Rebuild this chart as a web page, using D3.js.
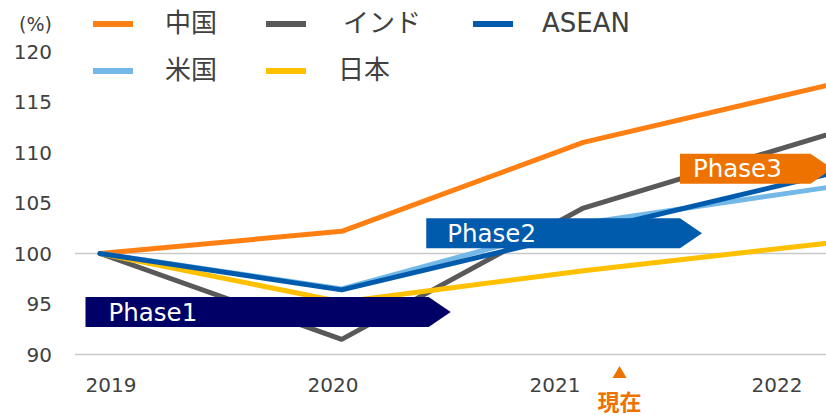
<!DOCTYPE html>
<html><head><meta charset="utf-8">
<script src="https://cdn.jsdelivr.net/npm/d3@7"></script>
<style>
html,body{margin:0;padding:0;background:#fff;}
svg{display:block;font-family:"DejaVu Sans","Noto Sans CJK JP",sans-serif;}
</style></head>
<body><svg id="c" width="826" height="415"></svg>
<script>
const years = ["2019", "2020", "2021", "2022"];
const yTicks = [90, 95, 100, 105, 110, 115, 120];
const gridValues = [90, 100];
const seriesNames = ["中国", "米国", "インド", "日本", "ASEAN"];
const china = [100, 102.2, 111.0, 116.6];
const us = [100, 96.5, 103.0, 106.5];
const india = [100, 91.5, 104.5, 111.7];
const japan = [100, 95.2, 98.3, 101.0];
const asean = [100, 96.4, 102.1, 107.8];
const phaseLabels = ["Phase1", "Phase2", "Phase3"];
const phaseStart = [2019 - 0.06, 2020.35, 2021.40];
const phaseEnd = [2020.36, 2021.40, 2021.94];
const phaseLevel = [94.2, 102.0, 108.4];
const nowLabel = "現在";
const nowYear = 2021.15;

const colors = {"中国":"#FF7F13","米国":"#74B8E7","インド":"#595959","日本":"#FFC000","ASEAN":"#005BAC"};
const dataBy = {"中国":china,"米国":us,"インド":india,"日本":japan,"ASEAN":asean};
const phaseColors = ["#000066","#005BAC","#EE7200"];

const svg = d3.select("#c");
const x = d3.scaleLinear().domain([2019, 2022]).range([100, 825]);
const y = d3.scaleLinear().domain([90, 120]).range([354.5, 51.5]);
const xLab = d3.scalePoint().domain(years).range([111, 777]);

// gridlines
svg.append("g").selectAll("line").data(gridValues).join("line")
  .attr("x1", 75).attr("x2", 826)
  .attr("y1", d => y(d)).attr("y2", d => y(d))
  .attr("stroke", "#C9C9C9").attr("stroke-width", 1.5);

// y labels
svg.append("g").selectAll("text").data(yTicks).join("text")
  .attr("x", 52).attr("y", d => y(d)).attr("dy", "0.36em")
  .attr("text-anchor", "end").attr("font-size", 20).attr("fill", "#404040")
  .text(d => d);
svg.append("text").attr("x", 52).attr("y", 24).attr("dy", "0.36em")
  .attr("text-anchor", "end").attr("font-size", 19).attr("fill", "#404040").text("(%)");

// x labels
svg.append("g").selectAll("text").data(years).join("text")
  .attr("x", d => xLab(d)).attr("y", 392)
  .attr("text-anchor", "middle").attr("font-size", 20).attr("fill", "#404040")
  .text(d => d);

// lines
const line = d3.line().x((d, i) => x(+years[i])).y(d => y(d));
const drawOrder = ["中国", "米国", "インド", "日本", "ASEAN"];
svg.append("g").selectAll("path").data(drawOrder).join("path")
  .attr("d", n => line(dataBy[n]))
  .attr("fill", "none").attr("stroke", n => colors[n])
  .attr("stroke-width", 5).attr("stroke-linejoin", "round").attr("stroke-linecap", "round");

// phase arrows
const boxH = 30;
phaseLabels.forEach((lab, i) => {
  const x0 = x(phaseStart[i]), x1 = x(phaseEnd[i]), yc = y(phaseLevel[i]);
  const tip = 22;
  const pts = [[x0, yc - boxH/2], [x1, yc - boxH/2], [x1 + tip, yc], [x1, yc + boxH/2], [x0, yc + boxH/2]];
  svg.append("path").attr("d", d3.line()(pts) + "Z").attr("fill", phaseColors[i]);
  svg.append("text").attr("x", x0 + (i === 0 ? 23 : (i === 1 ? 21 : 13))).attr("y", yc).attr("dy", "0.36em")
    .attr("font-size", 24.5).attr("fill", "#fff").text(lab);
});

// now marker
const nx = x(nowYear);
svg.append("path").attr("d", d3.symbol().type(d3.symbolTriangle).size(85)()).attr("transform", `translate(${nx},374)`).attr("fill", "#EE7200");
svg.append("text").attr("x", nx).attr("y", 410).attr("text-anchor", "middle")
  .attr("font-size", 22).attr("font-weight", "bold").attr("fill", "#EE7200")
  .attr("font-family", "'Noto Sans CJK JP',sans-serif").text(nowLabel);

// legend
const legendPos = {"中国":[93, 23], "インド":[266, 23], "ASEAN":[473, 23], "米国":[93, 70], "日本":[266, 70]};
const lg = svg.append("g");
seriesNames.forEach(n => {
  const [lx, ly] = legendPos[n];
  lg.append("line").attr("x1", lx).attr("x2", lx + 40).attr("y1", ly + 1).attr("y2", ly + 1)
    .attr("stroke", colors[n]).attr("stroke-width", 6);
  lg.append("text").attr("x", lx + (n === "ASEAN" ? 69 : (n === "インド" ? 77 : 72))).attr("y", ly).attr("dy", "0.36em")
    .attr("font-size", 26).attr("fill", "#404040")
    .attr("font-family", n === "ASEAN" ? "'DejaVu Sans',sans-serif" : "'Noto Sans CJK JP',sans-serif")
    .text(n);
});
</script></body></html>
